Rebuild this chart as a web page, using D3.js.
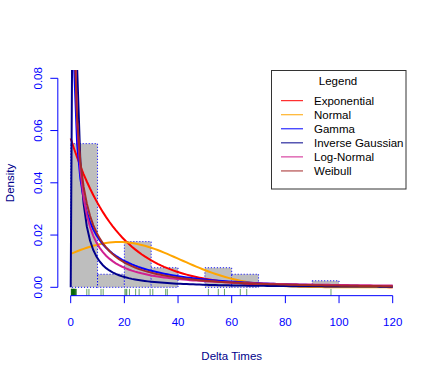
<!DOCTYPE html>
<html>
<head>
<meta charset="utf-8">
<script src="https://cdnjs.cloudflare.com/ajax/libs/d3/7.8.5/d3.min.js"></script>
<style>
  body { margin: 0; background: #fff; }
  text { font-family: "Liberation Sans", Arial, sans-serif; }
</style>
</head>
<body>
<div class="container"></div>
<script>
// delta times
const deltaTimes = [0.2, 0.3, 0.4, 0.5, 0.5, 0.6, 0.7, 0.8, 0.9, 1.0, 1.0, 1.1, 1.2, 1.3, 1.4,
                    1.5, 1.6, 1.8, 1.9, 2.1, 6.0, 6.8,
                    11.3, 12.1,
                    20.2, 20.6, 20.9, 21.9, 24.2, 25.5, 29.6,
                    30.6, 35.4, 36.0,
                    51.3, 55.0, 57.3,
                    63.2, 65.6,
                    97.0];
const breaks = [0, 10, 20, 30, 40, 50, 60, 70, 80, 90, 100];
const xTicks = [0, 20, 40, 60, 80, 100, 120];
const yTicks = [0, 0.02, 0.04, 0.06, 0.08];
const yTickLabels = ["0.00", "0.02", "0.04", "0.06", "0.08"];

const distNames = ["Exponential", "Normal", "Gamma", "Inverse Gaussian", "Log-Normal", "Weibull"];
const distColors = ["red", "orange", "blue", "darkblue", "#d02090", "brown"];

// fitted parameters (estimated from the curves)
const expRate = 0.057;
const normMean = 18, normSd = 23;
const gammaShape = 0.38, gammaRate = 0.0215;
const igMean = 17.7, igShape = 0.78;
const lnMeanlog = 1.9, lnSdlog = 2.4;
const wbShape = 0.55, wbScale = 11;

const width = 436;
const height = 382;
const fontSize = "11.5px";

// plot region like R: data range plus 4% each side
const x = d3.scaleLinear().domain([0, 120]).range([70.7, 392.7]);
const y = d3.scaleLinear().domain([0, 0.08]).range([287.3, 78.3]);
const regionLeft = x(-4.8), regionRight = x(124.8);
const regionTop = y(0.0832), regionBottom = y(-0.0032);

const svg = d3.select(".container")
  .append("svg")
    .attr("width", width)
    .attr("height", height);

svg.append("defs").append("clipPath")
    .attr("id", "plotclip")
  .append("rect")
    .attr("x", regionLeft)
    .attr("y", regionTop)
    .attr("width", regionRight - regionLeft)
    .attr("height", regionBottom - regionTop);

// log gamma, Lanczos
function lgamma(z) {
  const g = 7;
  const c = [0.99999999999980993, 676.5203681218851, -1259.1392167224028, 771.32342877765313,
    -176.61502916214059, 12.507343278686905, -0.13857109526572012,
    9.9843695780195716e-6, 1.5056327351493116e-7];
  if (z < 0.5) return Math.log(Math.PI / Math.sin(Math.PI * z)) - lgamma(1 - z);
  z -= 1;
  let a = c[0];
  const t = z + g + 0.5;
  for (let i = 1; i < g + 2; i++) a += c[i] / (z + i);
  return 0.5 * Math.log(2 * Math.PI) + (z + 0.5) * Math.log(t) - t + Math.log(a);
}

// at x = 0 gamma/weibull blow up and the log-normal is not drawn
const densities = [
  v => v < 0 ? 0 : expRate * Math.exp(-expRate * v),
  v => Math.exp(-0.5 * Math.pow((v - normMean) / normSd, 2)) / (normSd * Math.sqrt(2 * Math.PI)),
  v => v === 0 ? Infinity : Math.exp(gammaShape * Math.log(gammaRate) + (gammaShape - 1) * Math.log(v) - gammaRate * v - lgamma(gammaShape)),
  v => v <= 0 ? 0 : Math.sqrt(igShape / (2 * Math.PI * v * v * v)) * Math.exp(-igShape * (v - igMean) * (v - igMean) / (2 * igMean * igMean * v)),
  v => v <= 0 ? NaN : Math.exp(-Math.pow(Math.log(v) - lnMeanlog, 2) / (2 * lnSdlog * lnSdlog)) / (v * lnSdlog * Math.sqrt(2 * Math.PI)),
  v => v === 0 ? Infinity : (wbShape / wbScale) * Math.pow(v / wbScale, wbShape - 1) * Math.exp(-Math.pow(v / wbScale, wbShape))
];

// histogram (density scale)
const bins = d3.bin()
  .domain([0, 100])
  .thresholds(breaks.slice(1, -1))(deltaTimes);

svg.append("g")
  .selectAll("rect")
  .data(bins)
  .enter()
  .append("rect")
    .attr("x", d => x(d.x0))
    .attr("y", d => y(d.length / (deltaTimes.length * (d.x1 - d.x0))))
    .attr("width", d => x(d.x1) - x(d.x0))
    .attr("height", d => y(0) - y(d.length / (deltaTimes.length * (d.x1 - d.x0))))
    .attr("fill", "#bebebe")
    .attr("stroke", "blue")
    .attr("stroke-width", 1)
    .attr("stroke-dasharray", "1,2");

// fitted curves, 101 points like R's curve()
const xs = d3.range(0, 101).map(i => i * 1.2);
const line = d3.line()
  .defined(d => isFinite(d[1]))
  .x(d => x(d[0]))
  .y(d => y(d[1]));

const curves = svg.append("g").attr("clip-path", "url(#plotclip)");
densities.forEach((f, i) => {
  curves.append("path")
    .datum(xs.map(v => [v, f(v)]))
    .attr("fill", "none")
    .attr("stroke", distColors[i])
    .attr("stroke-width", 2)
    .attr("d", line);
});

// rug
svg.append("g")
  .selectAll("line")
  .data(deltaTimes)
  .enter()
  .append("line")
    .attr("x1", d => x(d))
    .attr("x2", d => x(d))
    .attr("y1", regionBottom)
    .attr("y2", regionBottom - 6.8)
    .attr("stroke", "darkgreen")
    .attr("stroke-opacity", 0.6)
    .attr("stroke-width", 1);

// x axis
const xAxis = svg.append("g").attr("fill", "none").attr("stroke", "blue");
xAxis.append("line")
  .attr("x1", x(0)).attr("x2", x(120))
  .attr("y1", regionBottom).attr("y2", regionBottom);
xAxis.selectAll(".tick")
  .data(xTicks)
  .enter()
  .append("line")
    .attr("x1", d => x(d)).attr("x2", d => x(d))
    .attr("y1", regionBottom).attr("y2", regionBottom + 7.5);
svg.selectAll(".xlabel")
  .data(xTicks)
  .enter()
  .append("text")
    .attr("x", d => x(d))
    .attr("y", 326)
    .attr("text-anchor", "middle")
    .attr("font-size", fontSize)
    .attr("fill", "blue")
    .text(d => d);

// y axis
const yAxis = svg.append("g").attr("fill", "none").attr("stroke", "blue");
yAxis.append("line")
  .attr("x1", regionLeft).attr("x2", regionLeft)
  .attr("y1", y(0)).attr("y2", y(0.08));
yAxis.selectAll(".tick")
  .data(yTicks)
  .enter()
  .append("line")
    .attr("x1", regionLeft).attr("x2", regionLeft - 7.5)
    .attr("y1", d => y(d)).attr("y2", d => y(d));
svg.selectAll(".ylabel")
  .data(yTicks)
  .enter()
  .append("text")
    .attr("transform", d => "translate(42," + y(d) + ") rotate(-90)")
    .attr("text-anchor", "middle")
    .attr("font-size", fontSize)
    .attr("fill", "blue")
    .text((d, i) => yTickLabels[i]);

// axis titles
svg.append("text")
  .attr("x", 231.7)
  .attr("y", 360)
  .attr("text-anchor", "middle")
  .attr("font-size", fontSize)
  .attr("fill", "darkblue")
  .text("Delta Times");

svg.append("text")
  .attr("transform", "translate(13.5,183) rotate(-90)")
  .attr("text-anchor", "middle")
  .attr("font-size", fontSize)
  .attr("fill", "darkblue")
  .text("Density");

// legend
const legend = svg.append("g").attr("transform", "translate(271,70)");
legend.append("rect")
  .attr("x", 0.5).attr("y", 0.5)
  .attr("width", 134.5).attr("height", 118.5)
  .attr("fill", "white")
  .attr("stroke", "#333");
legend.append("text")
  .attr("x", 67)
  .attr("y", 15)
  .attr("text-anchor", "middle")
  .attr("font-size", fontSize)
  .text("Legend");
distNames.forEach((name, i) => {
  const ly = 30.7 + i * 14.05;
  legend.append("line")
    .attr("x1", 10).attr("x2", 32)
    .attr("y1", ly).attr("y2", ly)
    .attr("stroke", distColors[i])
    .attr("stroke-width", 1);
  legend.append("text")
    .attr("x", 43)
    .attr("y", ly + 4.2)
    .attr("font-size", fontSize)
    .text(name);
});
</script>
</body>
</html>
